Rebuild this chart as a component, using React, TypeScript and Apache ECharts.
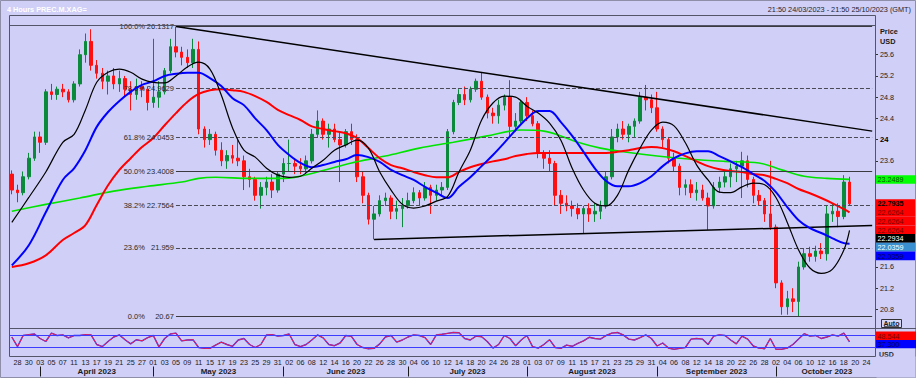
import React, { useEffect, useRef } from "react";
import * as echarts from "echarts";

const FONT = "'Liberation Sans', Arial, Helvetica, sans-serif";
const BG = "#cfcff7";
const UP = "#0b8a3c";
const DOWN = "#ff1010";

// Trading days (Mon-Fri) shown on the time axis
const START_DAY = "2023-03-27";
const DAY_COUNT = 153;
const MONTH_NAMES = ["January", "February", "March", "April", "May", "June", "July", "August", "September", "October", "November", "December"];

// Daily OHLC [open, high, low, close]
const ohlc: number[][] = [
  [23.35, 23.42, 22.97, 23.05], [23.05, 23.15, 22.82, 23.0], [23.0, 23.4, 22.95, 23.3], [23.3, 23.75, 23.25, 23.65], [23.65, 24.15, 23.6, 24.05],
  [24.05, 24.15, 23.75, 23.95], [23.95, 24.95, 23.9, 24.9], [24.9, 25.05, 24.75, 24.85], [24.85, 25.0, 24.75, 24.95], [24.95, 25.05, 24.8, 24.9],
  [24.9, 24.95, 24.7, 24.75], [24.75, 25.1, 24.7, 25.05], [25.05, 25.7, 25.0, 25.6], [25.6, 26.0, 25.45, 25.85], [25.85, 26.08, 25.3, 25.4],
  [25.4, 25.5, 25.15, 25.25], [25.25, 25.35, 24.95, 25.1], [25.1, 25.3, 24.85, 25.2], [25.2, 25.35, 24.95, 25.05], [25.05, 25.3, 24.9, 25.15],
  [25.15, 25.2, 24.8, 24.95], [24.95, 25.1, 24.55, 24.85], [24.85, 25.15, 24.75, 25.0], [25.0, 25.1, 24.8, 24.95], [24.95, 25.0, 24.55, 24.7],
  [24.7, 25.9, 24.6, 24.8], [24.8, 25.1, 24.6, 24.9], [24.9, 25.35, 24.85, 25.3], [25.3, 25.9, 25.25, 25.75], [25.75, 26.13, 25.55, 25.65],
  [25.65, 25.75, 25.4, 25.55], [25.55, 25.7, 25.35, 25.45], [25.45, 25.9, 25.35, 25.7], [25.7, 25.85, 24.1, 24.2], [24.2, 24.25, 23.85, 24.0],
  [24.0, 24.2, 23.9, 24.1], [24.1, 24.15, 23.7, 23.8], [23.8, 23.95, 23.5, 23.6], [23.6, 23.8, 23.45, 23.7], [23.7, 23.9, 23.55, 23.65],
  [23.65, 23.99, 23.5, 23.6], [23.6, 23.7, 23.05, 23.3], [23.3, 23.45, 23.1, 23.25], [23.25, 23.3, 22.85, 22.95], [22.95, 23.2, 22.7, 23.1],
  [23.1, 23.3, 22.95, 23.2], [23.2, 23.35, 22.9, 23.05], [23.05, 23.4, 23.0, 23.35], [23.35, 23.65, 23.2, 23.55], [23.55, 24.0, 23.4, 23.55],
  [23.55, 23.65, 23.35, 23.5], [23.5, 23.65, 23.35, 23.45], [23.45, 23.7, 23.35, 23.6], [23.6, 24.2, 23.55, 24.1], [24.1, 24.55, 24.05, 24.35],
  [24.35, 24.4, 24.0, 24.1], [24.1, 24.3, 23.85, 24.2], [24.2, 24.3, 23.95, 24.0], [24.0, 24.15, 23.2, 23.9], [23.9, 24.2, 23.85, 24.15],
  [24.15, 24.3, 23.9, 24.0], [24.0, 24.1, 23.2, 23.3], [23.3, 23.4, 22.8, 22.95], [22.95, 23.0, 22.4, 22.5], [22.5, 22.75, 22.12, 22.6],
  [22.6, 22.95, 22.55, 22.85], [22.85, 23.0, 22.75, 22.9], [22.9, 22.95, 22.5, 22.65], [22.65, 22.85, 22.5, 22.7], [22.7, 22.9, 22.35, 22.75],
  [22.75, 23.0, 22.7, 22.85], [22.85, 23.1, 22.8, 23.0], [23.0, 23.05, 22.75, 22.9], [22.9, 23.2, 22.85, 23.1], [23.1, 23.15, 22.6, 22.95],
  [22.95, 23.15, 22.85, 23.05], [23.05, 23.2, 22.95, 23.1], [23.1, 24.2, 23.05, 24.15], [24.15, 24.75, 24.1, 24.7], [24.7, 24.95, 24.65, 24.85],
  [24.85, 25.0, 24.65, 24.75], [24.75, 25.0, 24.7, 24.95], [24.95, 25.15, 24.9, 25.1], [25.1, 25.27, 24.75, 24.8], [24.8, 24.85, 24.4, 24.5],
  [24.5, 24.6, 24.3, 24.45], [24.45, 24.75, 24.3, 24.65], [24.65, 24.85, 24.55, 24.8], [24.8, 25.12, 24.05, 24.25], [24.25, 24.5, 24.15, 24.35],
  [24.35, 24.75, 24.3, 24.7], [24.7, 24.8, 24.35, 24.45], [24.45, 24.55, 24.25, 24.3], [24.3, 24.35, 23.65, 23.75], [23.75, 23.8, 23.45, 23.65],
  [23.65, 23.8, 23.4, 23.55], [23.55, 23.6, 22.75, 22.95], [22.95, 23.05, 22.6, 22.8], [22.8, 22.95, 22.65, 22.75], [22.75, 22.85, 22.55, 22.7],
  [22.7, 22.8, 22.5, 22.6], [22.6, 22.75, 22.23, 22.7], [22.7, 22.8, 22.45, 22.6], [22.6, 22.8, 22.45, 22.65], [22.65, 22.85, 22.5, 22.75],
  [22.75, 23.4, 22.7, 23.3], [23.3, 24.2, 23.25, 24.05], [24.05, 24.3, 23.95, 24.2], [24.2, 24.35, 24.0, 24.1], [24.1, 24.3, 23.95, 24.25],
  [24.25, 24.4, 24.05, 24.35], [24.35, 24.9, 24.3, 24.8], [24.8, 25.03, 24.55, 24.75], [24.75, 24.85, 24.5, 24.6], [24.6, 24.9, 24.15, 24.2],
  [24.2, 24.25, 23.85, 24.0], [24.0, 24.05, 23.55, 23.65], [23.65, 23.75, 23.4, 23.5], [23.5, 23.55, 22.95, 23.1], [23.1, 23.25, 22.95, 23.15],
  [23.15, 23.25, 22.9, 23.0], [23.0, 23.2, 22.85, 23.05], [23.05, 23.15, 22.85, 22.9], [22.9, 23.0, 22.3, 22.75], [22.75, 23.2, 22.7, 23.1],
  [23.1, 23.3, 23.0, 23.2], [23.2, 23.4, 23.1, 23.3], [23.3, 23.55, 23.1, 23.45], [23.45, 23.6, 23.2, 23.5], [23.5, 23.77, 22.9, 23.6],
  [23.6, 23.7, 23.1, 23.25], [23.25, 23.3, 22.8, 22.95], [22.95, 23.05, 22.75, 22.85], [22.85, 22.9, 22.45, 22.6], [22.6, 23.6, 22.3, 22.35],
  [22.35, 22.4, 21.2, 21.3], [21.3, 21.35, 20.7, 20.85], [20.85, 21.15, 20.7, 21.0], [21.0, 21.2, 20.75, 20.95], [20.95, 21.7, 20.67, 21.6],
  [21.6, 21.95, 21.55, 21.85], [21.85, 21.98, 21.7, 21.8], [21.8, 22.0, 21.7, 21.9], [21.9, 22.05, 21.75, 21.85], [21.85, 22.75, 21.72, 22.6],
  [22.6, 22.8, 22.45, 22.65], [22.65, 22.8, 22.35, 22.55], [22.55, 23.33, 22.5, 23.2], [23.2, 23.3, 22.75, 22.79],
];

// Moving averages, sampled [dayIndex, value]
const maBlack: number[][] = [
  [0, 22.44], [3, 22.91], [6, 23.39], [9, 23.95], [11, 24.1], [13, 24.56], [15, 25.08], [17, 25.27], [19, 25.33], [21, 25.27],
  [23, 25.14], [25, 25.08], [27, 25.07], [29, 25.2], [31, 25.37], [33, 25.46], [35, 25.33], [37, 24.84], [39, 24.22], [41, 23.8],
  [43, 23.67], [45, 23.46], [47, 23.33], [49, 23.29], [51, 23.31], [53, 23.46], [55, 23.61], [57, 23.8], [59, 23.9], [61, 23.99],
  [63, 23.84], [65, 23.39], [67, 23.05], [69, 22.78], [71, 22.71], [73, 22.75], [75, 22.84], [77, 22.93], [79, 23.39], [81, 23.8],
  [83, 24.37], [85, 24.69], [87, 24.82], [89, 24.8], [91, 24.63], [93, 24.5], [95, 24.31], [97, 23.99], [99, 23.46], [101, 23.05],
  [103, 22.8], [105, 22.75], [107, 22.95], [109, 23.43], [111, 23.84], [113, 24.18], [115, 24.33], [117, 24.26], [119, 23.94], [121, 23.52],
  [123, 23.24], [125, 23.01], [127, 23.0], [129, 23.11], [131, 23.18], [133, 23.15], [135, 22.91], [137, 22.44], [139, 21.92], [141, 21.58],
  [143, 21.48], [145, 21.56], [147, 21.92], [148, 22.29],
];
const maBlue: number[][] = [
  [0, 21.63], [3, 22.01], [6, 22.63], [9, 23.24], [11, 23.46], [13, 23.8], [15, 24.24], [17, 24.52], [19, 24.73], [21, 24.9],
  [23, 25.03], [25, 25.1], [27, 25.2], [29, 25.24], [31, 25.26], [33, 25.26], [35, 25.16], [37, 25.01], [39, 24.78], [41, 24.65],
  [43, 24.4], [45, 24.18], [47, 23.9], [49, 23.71], [51, 23.56], [53, 23.48], [55, 23.52], [57, 23.58], [59, 23.63], [61, 23.71],
  [63, 23.67], [65, 23.58], [67, 23.43], [69, 23.33], [71, 23.24], [73, 23.11], [75, 23.0], [77, 22.9], [79, 23.11], [81, 23.29],
  [83, 23.5], [85, 23.71], [87, 23.94], [89, 24.18], [91, 24.4], [93, 24.54], [95, 24.54], [97, 24.33], [99, 24.07], [101, 23.77],
  [103, 23.46], [105, 23.22], [107, 23.12], [109, 23.12], [111, 23.18], [113, 23.31], [115, 23.5], [117, 23.65], [119, 23.74], [121, 23.78],
  [123, 23.78], [125, 23.69], [127, 23.59], [129, 23.48], [131, 23.35], [133, 23.22], [135, 23.01], [137, 22.73], [139, 22.48], [141, 22.33],
  [143, 22.24], [145, 22.14], [147, 22.05], [148, 22.04],
];
const maRed: number[][] = [
  [0, 21.6], [3, 21.67], [6, 21.82], [9, 22.11], [11, 22.24], [13, 22.39], [15, 22.77], [17, 23.14], [19, 23.43], [21, 23.65],
  [23, 23.86], [25, 24.03], [27, 24.27], [29, 24.5], [31, 24.71], [33, 24.86], [35, 24.93], [37, 24.95], [39, 24.93], [41, 24.9],
  [43, 24.82], [45, 24.71], [47, 24.56], [49, 24.46], [51, 24.37], [53, 24.25], [55, 24.2], [57, 24.16], [59, 24.12], [61, 24.03],
  [63, 23.84], [65, 23.65], [67, 23.52], [69, 23.46], [71, 23.39], [73, 23.33], [75, 23.29], [77, 23.29], [79, 23.39], [81, 23.48],
  [83, 23.54], [85, 23.59], [87, 23.63], [89, 23.69], [91, 23.73], [93, 23.75], [95, 23.75], [97, 23.75], [99, 23.75], [101, 23.75],
  [103, 23.75], [105, 23.75], [107, 23.77], [109, 23.8], [111, 23.84], [113, 23.86], [115, 23.84], [117, 23.78], [119, 23.69], [121, 23.59],
  [123, 23.5], [125, 23.44], [127, 23.41], [129, 23.39], [131, 23.35], [133, 23.33], [135, 23.26], [137, 23.18], [139, 23.07], [141, 22.99],
  [143, 22.9], [145, 22.8], [147, 22.69], [148, 22.63],
];
const maGreen: number[][] = [
  [0, 22.65], [6, 22.78], [12, 22.9], [18, 23.03], [24, 23.12], [30, 23.2], [33, 23.27], [36, 23.29], [42, 23.27], [48, 23.27],
  [54, 23.39], [60, 23.56], [66, 23.69], [72, 23.84], [78, 23.95], [84, 24.07], [90, 24.18], [94, 24.16], [97, 24.07], [100, 23.95],
  [104, 23.84], [108, 23.77], [114, 23.69], [120, 23.63], [126, 23.59], [132, 23.56], [136, 23.43], [140, 23.31], [144, 23.27], [148, 23.25],
];

// RSI (lower panel), one value per day
const rsi: number[] = [
  65, 33, 70, 73, 75, 60, 50, 78, 70, 72, 62, 70, 70, 73, 72, 40, 33, 50, 65, 72,
  56, 42, 56, 52, 63, 70, 32, 60, 75, 78, 52, 55, 56, 30, 27, 27, 38, 48, 40, 34,
  55, 60, 40, 30, 40, 72, 73, 68, 70, 75, 40, 33, 40, 55, 72, 62, 40, 36, 45, 70,
  67, 40, 30, 26, 27, 42, 65, 70, 48, 55, 65, 72, 70, 63, 40, 72, 74, 77, 80, 79,
  60, 55, 68, 66, 50, 28, 40, 70, 60, 36, 55, 70, 33, 28, 40, 56, 30, 27, 38, 34,
  44, 52, 64, 60, 58, 70, 78, 80, 72, 58, 55, 63, 72, 60, 35, 45, 28, 24, 27, 30,
  58, 60, 58, 40, 68, 72, 70, 55, 42, 68, 58, 35, 28, 26, 60, 24, 24, 28, 40, 58,
  76, 68, 70, 60, 65, 72, 68, 78, 49,
];
const rsiLevels = [70, 30];

const priceTicks = [20.8, 21.2, 21.6, 22.0, 22.4, 22.8, 23.2, 23.6, 24.0, 24.4, 24.8, 25.2, 25.6];
// tick labels that are not covered by the last-value boxes
const priceLabels = [20.8, 21.2, 21.6, 23.6, 24.0, 24.4, 24.8, 25.2, 25.6];

const fibLevels = [
  { pct: "100.0%", value: 26.1317, dashed: false },
  { pct: "78.6%", value: 24.9629, dashed: true },
  { pct: "61.8%", value: 24.0453, dashed: true },
  { pct: "50.0%", value: 23.4008, dashed: false },
  { pct: "38.2%", value: 22.7564, dashed: true },
  { pct: "23.6%", value: 21.959, dashed: true },
  { pct: "0.0%", value: 20.67, dashed: false },
];
const FIB_START = 29;
const trendDown = [[29, 26.1317], [152, 24.16]];
const trendUp = [[64, 22.12], [152, 22.38]];

// Last-value boxes on the price scale
const boxAnchors = [23.2489, 22.7935];
const boxesA = [{ text: "23.2489", bg: "#00ff00", color: "#005a00", bold: false }];
const boxesB = [
  { text: "22.7935", bg: "#ff0000", color: "#000000", bold: true },
  { text: "22.6264", bg: "#ff0000", color: "#7a0000", bold: false },
  { text: "22.6264", bg: "#ff0000", color: "#7a0000", bold: false },
  { text: "22.6264", bg: "#ff0000", color: "#7a0000", bold: false },
  { text: "22.2934", bg: "#000000", color: "#ffffff", bold: false },
  { text: "22.0359", bg: "#3a8fd0", color: "#ffffff", bold: false },
  { text: "22.0359", bg: "#0000ff", color: "#00005a", bold: false },
];
const rsiBoxes = [
  { text: "48.544", bg: "#ff0000", color: "#7a0000" },
  { text: "37.300", bg: "#0000ff", color: "#00005a" },
];

function buildDays(): string[] {
  const out: string[] = [];
  const d = new Date(START_DAY + "T00:00:00Z");
  while (out.length < DAY_COUNT) {
    const wd = d.getUTCDay();
    if (wd !== 0 && wd !== 6) out.push(d.toISOString().slice(0, 10));
    d.setUTCDate(d.getUTCDate() + 1);
  }
  return out;
}

export default function App() {
  const ref = useRef<HTMLDivElement>(null);
  useEffect(() => {
    const el = ref.current!;
    const chart = echarts.init(el, null, { renderer: "svg" });
    const days = buildDays();
    const LAST = days.length - 1;

    const monthStarts: number[] = [];
    for (let i = 1; i < days.length; i++) {
      if (days[i].slice(5, 7) !== days[i - 1].slice(5, 7)) monthStarts.push(i);
    }
    const monthLabelAt: Record<number, { text: string; shift: boolean }> = {};
    for (let k = 0; k < monthStarts.length; k++) {
      const s = monthStarts[k];
      const e = k + 1 < monthStarts.length ? monthStarts[k + 1] : days.length;
      const mid = (s + e) / 2;
      const idx = Math.floor(mid);
      const m = parseInt(days[s].slice(5, 7), 10) - 1;
      monthLabelAt[idx] = { text: `${MONTH_NAMES[m]} ${days[s].slice(0, 4)}`, shift: mid - idx > 0.1 };
    }

    const fibMark = fibLevels.map((f) => [
      {
        coord: [days[FIB_START], f.value],
        lineStyle: f.dashed
          ? { color: "#4a4a55", width: 1, type: [4, 2] }
          : { color: "#3a3a40", width: 1, type: "solid" },
        label: {
          show: true,
          position: "start",
          distance: 2,
          formatter: () => `{p|${f.pct}}{v|${f.value}}`,
          rich: {
            p: { width: 28, fontSize: 7.5, color: "#2a2a2a", fontFamily: FONT },
            v: { width: 29, fontSize: 7.5, color: "#2a2a2a", fontFamily: FONT },
          },
        },
      },
      { coord: [days[LAST], f.value] },
    ]);
    const trendMark = [trendDown, trendUp].map((t) => [
      { coord: [days[t[0][0]], t[0][1]], lineStyle: { color: "#000000", width: 1.5, type: "solid" }, label: { show: false } },
      { coord: [days[t[1][0]], t[1][1]] },
    ]);

    const maSeries = (data: number[][], color: string, width: number, z: number) => ({
      type: "line",
      xAxisIndex: 0,
      yAxisIndex: 0,
      data,
      symbol: "none",
      smooth: 0.35,
      lineStyle: { color, width },
      z,
      silent: true,
    });

    chart.setOption({
      animation: false,
      backgroundColor: BG,
      textStyle: { fontFamily: FONT },
      grid: [
        { left: 9, top: 25, width: 866, height: 303 },
        { left: 9, top: 326.5, width: 866, height: 30 },
      ],
      xAxis: [
        { type: "category", gridIndex: 0, data: days, boundaryGap: true, show: false },
        {
          type: "category",
          gridIndex: 1,
          data: days,
          boundaryGap: true,
          axisLine: { show: false },
          axisTick: { show: false },
          axisLabel: {
            interval: (i: number) => i % 2 === 1,
            formatter: (v: string) => v.slice(8, 10),
            fontSize: 7.2,
            color: "#1a1a1a",
            fontFamily: FONT,
            margin: 2.5,
          },
        },
        {
          type: "category",
          gridIndex: 1,
          data: days,
          boundaryGap: true,
          position: "bottom",
          offset: 10,
          axisLine: { show: false },
          axisTick: {
            show: true,
            alignWithLabel: true,
            interval: (i: number) => monthStarts.indexOf(i) >= 0,
            length: 10,
            lineStyle: { color: "#1a1a1a", width: 1 },
          },
          axisLabel: {
            interval: (i: number) => monthLabelAt[i] !== undefined,
            margin: 1,
            formatter: (_v: string, i: number) => {
              const m = monthLabelAt[i];
              if (!m) return "";
              return m.shift ? `{s|${m.text}}` : `{n|${m.text}}`;
            },
            rich: {
              s: { padding: [0, 0, 0, 5.66], fontWeight: "bold", fontSize: 8, color: "#1a1a1a", fontFamily: FONT },
              n: { fontWeight: "bold", fontSize: 8, color: "#1a1a1a", fontFamily: FONT },
            },
          },
        },
      ],
      yAxis: [
        {
          type: "value",
          gridIndex: 0,
          position: "right",
          min: 20.45,
          max: 26.16,
          splitLine: { show: false },
          axisLine: { show: true, lineStyle: { color: "#55556a" } },
          axisTick: { show: true, length: 3, customValues: priceTicks, lineStyle: { color: "#333" } },
          axisLabel: {
            customValues: priceLabels,
            fontSize: 7.2,
            color: "#1a1a1a",
            fontFamily: FONT,
            margin: 5,
            formatter: (v: number) => {
              const s = String(Math.round(v * 10) / 10);
              return s === "24" ? "{b|24}" : s;
            },
            rich: { b: { fontWeight: "bold", fontSize: 7.6, color: "#000", fontFamily: FONT } },
          },
        },
        { type: "value", gridIndex: 1, min: 0, max: 100, show: false },
      ],
      series: [
        {
          type: "candlestick",
          xAxisIndex: 0,
          yAxisIndex: 0,
          data: ohlc.map(([o, h, l, c]) => [o, c, l, h]),
          barWidth: 3,
          itemStyle: { color: UP, color0: DOWN, borderColor: UP, borderColor0: DOWN, borderWidth: 1 },
          silent: true,
          markLine: {
            silent: true,
            symbol: ["none", "none"],
            animation: false,
            label: { show: false },
            data: [...fibMark, ...trendMark],
          },
        },
        maSeries(maGreen, "#00e400", 1.6, 3),
        maSeries(maRed, "#ff0000", 2, 4),
        maSeries(maBlue, "#0000ff", 2, 5),
        maSeries(maBlack, "#000000", 1.2, 6),
        {
          type: "line",
          xAxisIndex: 1,
          yAxisIndex: 1,
          data: rsi,
          symbol: "none",
          lineStyle: { color: "#2c2cff", width: 1.4 },
          silent: true,
          markLine: {
            silent: true,
            symbol: ["none", "none"],
            label: { show: false },
            lineStyle: { color: "#3c3cff", width: 1, type: "solid" },
            data: rsiLevels.map((v) => ({ yAxis: v })),
          },
        },
        {
          type: "line",
          xAxisIndex: 1,
          yAxisIndex: 1,
          data: rsi,
          symbol: "none",
          lineStyle: { color: "#ff2040", width: 0.9 },
          silent: true,
        },
      ],
    });

    const yOf = (v: number) => chart.convertToPixel({ yAxisIndex: 0 }, v) as number;
    const BH = 8.7;
    const els: any[] = [];
    const txt = (x: number, y: number, text: string, fill: string, font: string, align = "left", vAlign = "middle", z = 110) => ({
      type: "text",
      z,
      x,
      y,
      style: { text, fill, font, align, verticalAlign: vAlign, textAlign: align, textVerticalAlign: vAlign },
      silent: true,
    });
    const box = (yc: number, b: { text: string; bg: string; color: string; bold?: boolean }, w = 39, h = BH) => {
      els.push({ type: "rect", z: 105, shape: { x: 876, y: yc - h / 2, width: w, height: h }, style: { fill: b.bg }, silent: true });
      els.push(txt(877.5, yc + 0.3, b.text, b.color, `${b.bold ? "bold " : ""}7.2px ${FONT}`));
    };

    // frames
    els.push({ type: "rect", z: 90, shape: { x: 0.5, y: 0.5, width: 915, height: 377 }, style: { fill: "none", stroke: "#8e8ea8", lineWidth: 1 }, silent: true });
    els.push({ type: "rect", z: 90, shape: { x: 9.5, y: 15.5, width: 866, height: 341 }, style: { fill: "none", stroke: "#55556a", lineWidth: 1 }, silent: true });
    els.push({ type: "line", z: 90, shape: { x1: 9.5, y1: 25.5, x2: 875.5, y2: 25.5 }, style: { stroke: "#55556a", lineWidth: 1 }, silent: true });
    els.push({ type: "line", z: 90, shape: { x1: 9.5, y1: 328.5, x2: 916, y2: 328.5 }, style: { stroke: "#55556a", lineWidth: 1 }, silent: true });

    // header texts
    els.push(txt(7, 9, "4 Hours PREC.M.XAG=", "#ffffff", `bold 7.3px ${FONT}`));
    els.push(txt(911, 9.5, "21:50 24/03/2023 - 21:50 25/10/2023 (GMT)", "#1e1e30", `7.3px ${FONT}`, "right"));
    els.push(txt(880, 31, "Price", "#1a1a1a", `bold 7.3px ${FONT}`));
    els.push(txt(880, 41.5, "USD", "#1a1a1a", `bold 7.3px ${FONT}`));

    // value boxes
    let y = yOf(boxAnchors[0]);
    boxesA.forEach((b, i) => box(y + i * BH, b));
    y = yOf(boxAnchors[1]);
    boxesB.forEach((b, i) => box(y + i * BH, b));

    // Auto button
    els.push({ type: "rect", z: 105, shape: { x: 881.5, y: 319.5, width: 20, height: 8 }, style: { fill: "#d6d6f6", stroke: "#333", lineWidth: 1 }, silent: true });
    els.push(txt(891.5, 323.6, "Auto", "#1a1a1a", `bold 7px ${FONT}`, "center"));
    els.push({ type: "line", z: 111, shape: { x1: 884, y1: 326.6, x2: 899, y2: 326.6 }, style: { stroke: "#1a1a1a", lineWidth: 0.7 }, silent: true });

    // RSI boxes + partial unit label
    els.push(txt(879, 350.5, "USD", "#2a2a3a", `bold 7px ${FONT}`, "left", "top", 100));
    rsiBoxes.forEach((b, i) => box(335.7 + i * 8.4, b, 40, 8.4));
    els.push({ type: "rect", z: 101, shape: { x: 876.5, y: 356.5, width: 39, height: 21 }, style: { fill: BG }, silent: true });

    chart.setOption({ graphic: { elements: els } });

    return () => chart.dispose();
  }, []);
  return <div ref={ref} style={{ position: "fixed", left: 0, top: 0, width: 916, height: 378 }} />;
}
